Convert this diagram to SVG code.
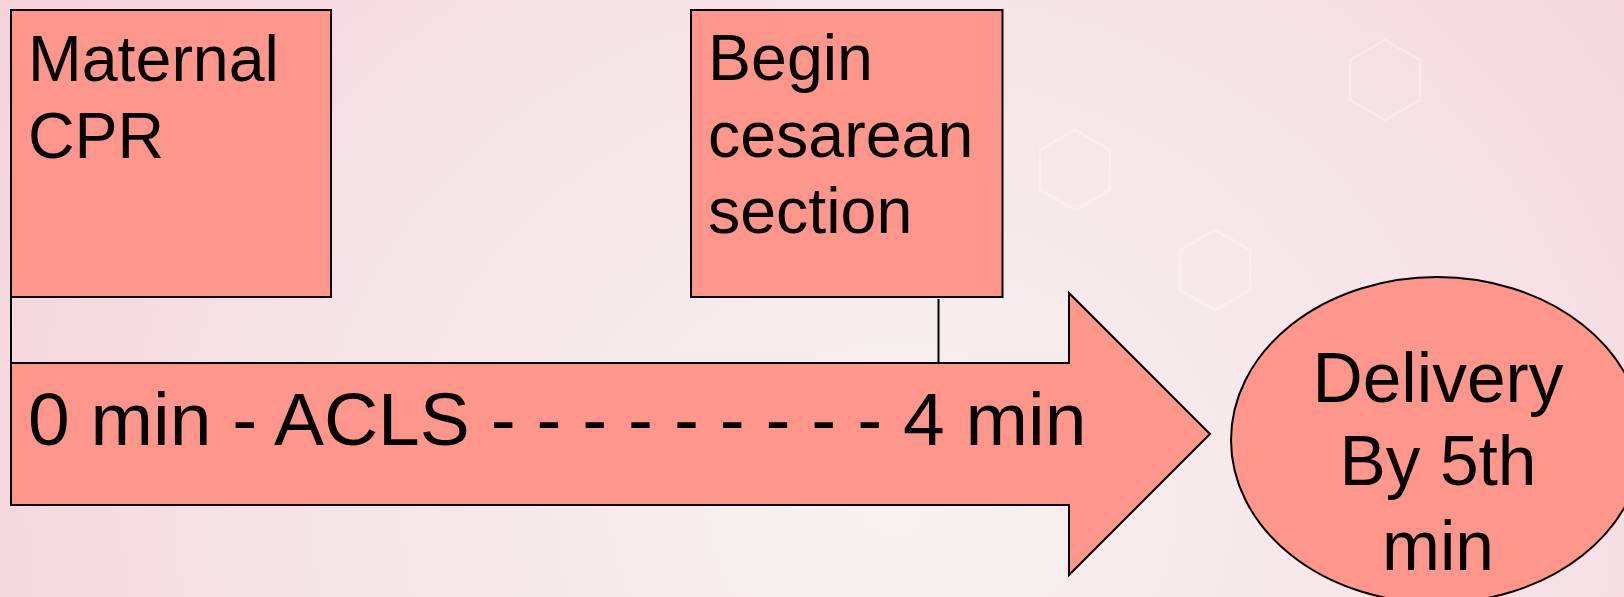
<svg xmlns="http://www.w3.org/2000/svg" width="1624" height="597" viewBox="0 0 1624 597">
<style>
.shape{fill:#FF968B;stroke:#000;stroke-width:2}
.t{font-family:"Liberation Sans",Arial,sans-serif;fill:#000}
.conn{stroke:#000;stroke-width:2;fill:none}
.hex{fill:none;stroke:#fff;stroke-opacity:0.3;stroke-width:3}
</style>
<defs>
<radialGradient id="bg" cx="0.55" cy="0.85" r="0.7" gradientTransform="translate(0.55 0.85) scale(1 2.4) translate(-0.55 -0.85)">
<stop offset="0" stop-color="#F7F1F1"/>
<stop offset="0.5" stop-color="#F5E4E8"/>
<stop offset="1" stop-color="#F6CFD8"/>
</radialGradient>
</defs>
<rect width="1624" height="597" fill="url(#bg)"/>
<g id="bg-pattern">
<polygon class="hex" points="1040,150 1075,130 1110,150 1110,190 1075,210 1040,190"/>
<polygon class="hex" points="1350,60 1385,40 1420,60 1420,100 1385,120 1350,100"/>
<polygon class="hex" points="1180,250 1215,230 1250,250 1250,290 1215,310 1180,290"/>
</g>
<g id="connectors">
<line class="conn" x1="11" y1="297" x2="11" y2="364"/>
<line class="conn" x1="938.5" y1="299" x2="938.5" y2="362"/>
</g>
<g id="timeline-arrow">
<polygon class="shape" points="11,363 1069,363 1069,293 1210,434 1069,575 1069,505 11,505"/>
<text class="t" x="28" y="445" font-size="75">0 min - ACLS - - - - - - - - - 4 min</text>
</g>
<g id="maternal-cpr">
<rect class="shape" x="11" y="10" width="320" height="287"/>
<text class="t" x="28" y="81" font-size="64.5">Maternal</text>
<text class="t" x="28" y="158" font-size="64.5">CPR</text>
</g>
<g id="begin-cesarean">
<rect class="shape" x="691" y="10" width="311.5" height="287"/>
<text class="t" x="708" y="80" font-size="64.5">Begin</text>
<text class="t" x="708" y="157" font-size="64.5">cesarean</text>
<text class="t" x="708" y="233" font-size="64.5">section</text>
</g>
<g id="delivery">
<ellipse class="shape" cx="1437" cy="440" rx="206" ry="163"/>
<text class="t" x="1438" y="402" font-size="69.5" text-anchor="middle">Delivery</text>
<text class="t" x="1438" y="485" font-size="69.5" text-anchor="middle">By 5th</text>
<text class="t" x="1438" y="570" font-size="69.5" text-anchor="middle">min</text>
</g>
</svg>
